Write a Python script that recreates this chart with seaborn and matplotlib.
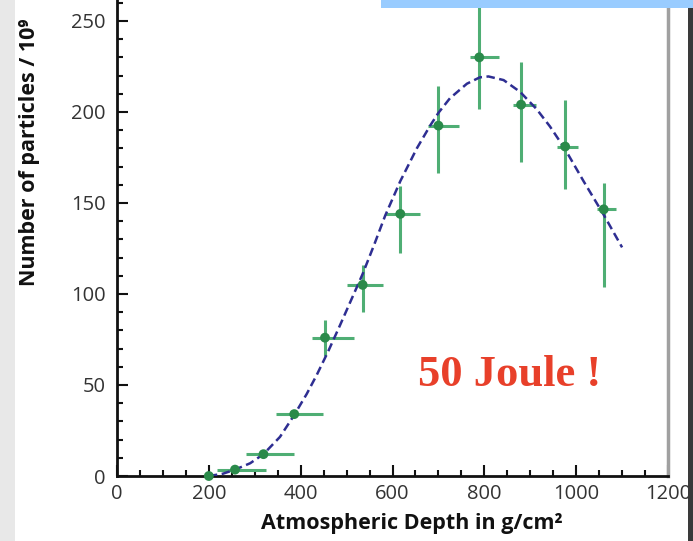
import matplotlib
matplotlib.use("Agg")
import matplotlib.pyplot as plt
import seaborn as sns
import pandas as pd
from matplotlib.patches import Rectangle
from matplotlib.ticker import MultipleLocator

# ---- measured data points (atmospheric depth g/cm^2, particles / 1e9) ----
depth = [200, 257, 319, 386, 453, 535, 617, 700, 789, 880, 976, 1060]
particles = [0, 3.5, 12, 34, 76, 105, 144, 192.5, 230, 204, 181, 146.5]
depth_low = [200, 217, 281, 346, 425, 501, 584, 678, 768, 862, 958, 1045]
depth_high = [200, 325, 386, 449, 516, 580, 660, 744, 832, 913, 1005, 1086]
particles_low = [0, 3.5, 12, 34, 66, 90, 122.7, 166.3, 201.6, 172.4, 157.7, 104]
particles_high = [0, 3.5, 12, 34, 85.7, 116, 159.3, 214.3, 258, 227.6, 206.6, 161.2]

# ---- fitted curve ----
fit_depth = [200, 230, 257, 290, 319, 355, 386, 413, 435, 460, 486, 507, 535, 560,
             584, 617, 653, 682, 700, 725, 762, 790, 809, 842, 878, 914, 943, 976,
             1016, 1060, 1100]
fit_particles = [0, 1.2, 3.5, 7, 12, 21.5, 33.5, 45, 55.5, 68.5, 83, 95, 111, 127,
                 143, 162, 180, 192.5, 199.5, 207.5, 215.5, 219, 219.5, 217.5, 211, 201.5, 192, 179.5,
                 162, 143.5, 125.6]

x_ticks = [0, 200, 400, 600, 800, 1000, 1200]
y_ticks = [0, 50, 100, 150, 200, 250]
annotation = "50 Joule !"

pts = pd.DataFrame({"depth": depth, "particles": particles})
fit = pd.DataFrame({"depth": fit_depth, "particles": fit_particles})

sns.set_theme(style="ticks")
plt.rcParams["font.family"] = ["Open Sans", "DejaVu Sans"]

W, H = 693, 541
fig = plt.figure(figsize=(W / 100, H / 100), dpi=100)
ax = fig.add_axes([117 / W, 65 / H, 551 / W, 476 / H])

xerr = [[d - lo for d, lo in zip(depth, depth_low)], [hi - d for d, hi in zip(depth, depth_high)]]
yerr = [[p - lo for p, lo in zip(particles, particles_low)], [hi - p for p, hi in zip(particles, particles_high)]]
ax.errorbar(depth, particles, xerr=xerr, yerr=yerr, fmt="none", ecolor="#4fae74",
            elinewidth=2.2, capsize=0, zorder=2)

sns.lineplot(data=fit, x="depth", y="particles", ax=ax, sort=False, estimator=None,
             color="#2e2e92", linewidth=1.8, dashes=False, zorder=3)
ax.lines[-1].set_dashes([3.4, 1.8])

sns.scatterplot(data=pts, x="depth", y="particles", ax=ax, color="#2a8a4a", s=50,
                edgecolor="none", zorder=4, clip_on=False)

ax.text(856, 49.5, annotation, color="#e8402a", fontsize=32, fontweight="bold",
        family=["Liberation Serif", "DejaVu Serif"], ha="center", va="baseline")

ax.set_xlim(0, 1200)
ax.set_ylim(0, 261.5)
ax.set_xticks(x_ticks)
ax.set_yticks(y_ticks)
ax.xaxis.set_minor_locator(MultipleLocator(50))
ax.yaxis.set_minor_locator(MultipleLocator(10))
ax.tick_params(which="both", direction="in", color="#111111", width=1.5)
ax.tick_params(which="major", length=8)
ax.tick_params(which="minor", length=4.5)
ax.tick_params(axis="x", which="major", labelsize=14.5, labelcolor="#333333", pad=6)
ax.tick_params(axis="y", which="major", labelsize=14.5, labelcolor="#333333", pad=8)

ax.spines["top"].set_visible(False)
ax.spines["left"].set_linewidth(2)
ax.spines["left"].set_color("#111111")
ax.spines["bottom"].set_linewidth(2)
ax.spines["bottom"].set_color("#111111")
ax.spines["right"].set_linewidth(2.5)
ax.spines["right"].set_color("#a0a0a0")

ax.set_xlabel("Atmospheric Depth in g/cm²", fontsize=15.5, fontweight="bold", color="#111111")
ax.set_ylabel("Number of particles / 10⁹", fontsize=15.5, fontweight="bold", color="#111111")
ax.xaxis.set_label_coords(0.535, -0.078)
ax.yaxis.set_label_coords(-0.14, 0.68)

# screenshot frame decorations
fig.add_artist(Rectangle((0, 0), 15 / W, 1, transform=fig.transFigure,
                         facecolor="#e8e8e8", edgecolor="none", zorder=-1))
fig.add_artist(Rectangle((381 / W, 1 - 8 / H), 1, 8 / H, transform=fig.transFigure,
                         facecolor="#99ccff", edgecolor="none", zorder=10))
fig.add_artist(Rectangle((688 / W, 0), 5 / W, 1 - 8 / H, transform=fig.transFigure,
                         facecolor="#3a3a3a", edgecolor="none", zorder=10))

fig.savefig("out.png", dpi=100)
